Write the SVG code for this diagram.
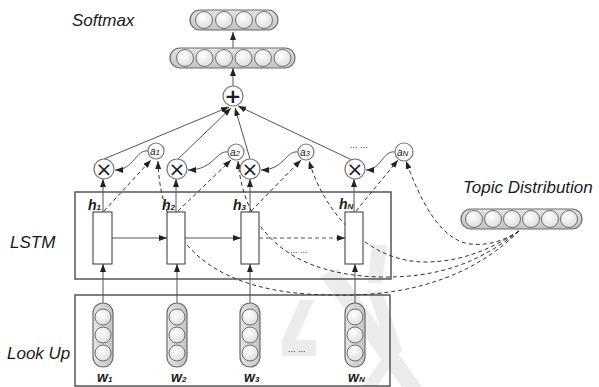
<svg xmlns="http://www.w3.org/2000/svg" width="599" height="387" viewBox="0 0 599 387">
<defs>
  <marker id="arr" viewBox="0 0 8 6" refX="8" refY="3" markerWidth="8" markerHeight="6" markerUnits="userSpaceOnUse" orient="auto">
    <path d="M0,0 L8,3 L0,6 z" fill="#222"/>
  </marker>
  <linearGradient id="pillH" x1="0" y1="0" x2="0" y2="1">
    <stop offset="0" stop-color="#e4e4e4"/>
    <stop offset="1" stop-color="#c4c4c4"/>
  </linearGradient>
  <linearGradient id="pillV" x1="0" y1="0" x2="1" y2="0">
    <stop offset="0" stop-color="#e4e4e4"/>
    <stop offset="1" stop-color="#c4c4c4"/>
  </linearGradient>
  <radialGradient id="dot" cx="0.4" cy="0.35" r="0.7">
    <stop offset="0" stop-color="#ffffff"/>
    <stop offset="1" stop-color="#dcdcdc"/>
  </radialGradient>
</defs>
<style>
  .lbl{font-family:"Liberation Sans",Arial,sans-serif;font-style:italic;font-size:17px;fill:#1a1a1a}
  .sym{font-family:"Liberation Sans",Arial,sans-serif;font-style:italic;font-weight:bold;font-size:14px;fill:#1a1a1a}
  .sub{font-size:8px}
  .al{font-family:"Liberation Sans",Arial,sans-serif;font-style:italic;font-size:10px;fill:#1a1a1a}
  .dots{font-family:"Liberation Sans",Arial,sans-serif;font-size:9px;fill:#333}
  .op{font-family:"DejaVu Sans",sans-serif;font-size:20px;fill:#1a1a2e;text-anchor:middle}
  .pill{stroke:#6a6a6a;stroke-width:1.2}
  .dot{fill:url(#dot);stroke:#707070;stroke-width:1}
  .box{fill:none;stroke:#555;stroke-width:1.5}
  .cell{fill:#fff;stroke:#333;stroke-width:1}
  .node{fill:#fff;stroke:#777;stroke-width:1.2}
  .ln{fill:none;stroke:#555;stroke-width:1;marker-end:url(#arr)}
  .dl{fill:none;stroke:#333;stroke-width:1;stroke-dasharray:4 3;marker-end:url(#arr)}
  .wm{fill:#ececec}
</style>
<rect width="599" height="387" fill="#fff"/>

<g id="watermark">
  <polygon class="wm" points="372,245 387,245 382,283 368,283"/>
  <polygon class="wm" points="320,276 338,268 422,387 402,387"/>
  <polygon class="wm" points="368,292 382,290 402,350 376,387 362,387 388,350"/>
  <polygon class="wm" points="300,300 314,300 296,340 316,340 316,356 282,356 282,340"/>
</g>

<g id="labels">
  <text class="lbl" x="72" y="26">Softmax</text>
  <text class="lbl" x="10" y="248">LSTM</text>
  <text class="lbl" x="7" y="359">Look Up</text>
  <text class="lbl" x="463" y="193">Topic Distribution</text>
</g>

<g id="lstm-box"><rect class="box" x="75" y="192" width="316" height="87"/></g>
<g id="lookup-box"><rect class="box" x="75" y="295" width="315" height="91"/></g>

<g id="connectors">
  <!-- softmax chain -->
  <line class="ln" x1="233" y1="86" x2="233" y2="68"/>
  <line class="ln" x1="233" y1="48" x2="233" y2="32"/>
  <!-- x to plus -->
  <line class="ln" x1="104" y1="159" x2="229" y2="107"/>
  <line class="ln" x1="178" y1="159" x2="231" y2="108"/>
  <line class="ln" x1="250" y1="159" x2="235" y2="108"/>
  <line class="ln" x1="352" y1="160" x2="238" y2="106"/>
  <!-- a to x -->
  <path class="ln" d="M148,151 C136,149 134,170 115,170"/>
  <path class="ln" d="M228,152 C216,150 214,170 188,170"/>
  <path class="ln" d="M298,152 C286,150 284,170 261,170"/>
  <path class="ln" d="M395,152 C383,150 381,170 366,170"/>
  <!-- cell to x -->
  <line class="ln" x1="103" y1="212" x2="103" y2="179"/>
  <line class="ln" x1="176" y1="212" x2="176" y2="179"/>
  <line class="ln" x1="250" y1="212" x2="250" y2="179"/>
  <line class="ln" x1="354" y1="212" x2="354" y2="179"/>
  <!-- lookup to cell -->
  <line class="ln" x1="103" y1="303" x2="103" y2="264"/>
  <line class="ln" x1="177" y1="303" x2="177" y2="264"/>
  <line class="ln" x1="250" y1="303" x2="250" y2="264"/>
  <line class="ln" x1="355" y1="303" x2="355" y2="264"/>
  <!-- recurrent -->
  <line class="ln" x1="112" y1="238" x2="167" y2="238"/>
  <line class="ln" x1="185" y1="238" x2="241" y2="238"/>
  <line class="dl" style="stroke:#555" x1="259" y1="238" x2="345" y2="238"/>
  <!-- h to a dashed -->
  <line class="dl" x1="104" y1="211" x2="151" y2="160"/>
  <line class="dl" x1="178" y1="211" x2="231" y2="160"/>
  <line class="dl" x1="251" y1="211" x2="301" y2="160"/>
  <line class="dl" x1="356" y1="211" x2="398" y2="160"/>
  <!-- topic to a -->
  <path class="dl" d="M519,231 C480,270 420,297 335,295 C215,295 160,245 158,161"/>
  <path class="dl" d="M519,231 C480,262 440,278 380,277 C300,275 245,240 238,161"/>
  <path class="dl" d="M519,231 C490,250 460,262 425,262 C370,262 325,215 309,161"/>
  <path class="dl" d="M519,231 C505,240 490,246 470,244 C440,240 420,200 406,161"/>
</g>

<g id="softmax-out">
  <rect class="pill" fill="url(#pillH)" x="190" y="10" width="88" height="20" rx="10"/>
  <circle class="dot" cx="204" cy="20" r="8.5"/>
  <circle class="dot" cx="224" cy="20" r="8.5"/>
  <circle class="dot" cx="244" cy="20" r="8.5"/>
  <circle class="dot" cx="264" cy="20" r="8.5"/>
</g>
<g id="softmax-hidden">
  <rect class="pill" fill="url(#pillH)" x="170" y="48" width="125" height="20" rx="10"/>
  <circle class="dot" cx="185" cy="58" r="8.5"/>
  <circle class="dot" cx="204.5" cy="58" r="8.5"/>
  <circle class="dot" cx="224" cy="58" r="8.5"/>
  <circle class="dot" cx="243.5" cy="58" r="8.5"/>
  <circle class="dot" cx="263" cy="58" r="8.5"/>
  <circle class="dot" cx="282.5" cy="58" r="8.5"/>
</g>
<g id="plus">
  <circle class="node" cx="233" cy="96" r="10"/>
  <text class="op" x="233" y="103" font-weight="bold">+</text>
</g>

<g id="mul1"><circle class="node" cx="104" cy="169" r="10"/><text class="op" x="104" y="176">×</text></g>
<g id="mul2"><circle class="node" cx="177" cy="169" r="10"/><text class="op" x="177" y="176">×</text></g>
<g id="mul3"><circle class="node" cx="250" cy="169" r="10"/><text class="op" x="250" y="176">×</text></g>
<g id="mulN"><circle class="node" cx="355" cy="169" r="10"/><text class="op" x="355" y="176">×</text></g>
<text class="dots" x="350" y="148">... ...</text>

<g id="a1"><circle class="node" cx="156" cy="151" r="8"/><text class="al" x="150" y="155">a<tspan class="sub">1</tspan></text></g>
<g id="a2"><circle class="node" cx="236" cy="152" r="8"/><text class="al" x="230" y="156">a<tspan class="sub">2</tspan></text></g>
<g id="a3"><circle class="node" cx="306" cy="152" r="8"/><text class="al" x="300" y="156">a<tspan class="sub">3</tspan></text></g>
<g id="aN"><circle class="node" cx="404" cy="152" r="9"/><text class="al" x="397" y="156">a<tspan class="sub">N</tspan></text></g>

<g id="cell1"><rect class="cell" x="93" y="212" width="19" height="52"/><text class="sym" x="88" y="210">h<tspan class="sub">1</tspan></text></g>
<g id="cell2"><rect class="cell" x="167" y="212" width="18" height="52"/><text class="sym" x="162" y="210">h<tspan class="sub">2</tspan></text></g>
<g id="cell3"><rect class="cell" x="241" y="212" width="18" height="52"/><text class="sym" x="233" y="210">h<tspan class="sub">3</tspan></text></g>
<g id="cellN"><rect class="cell" x="345" y="212" width="18" height="52"/><text class="sym" x="339" y="209">h<tspan class="sub">N</tspan></text></g>
<text class="dots" x="290" y="253">... ...</text>

<g id="w1">
  <rect class="pill" fill="url(#pillV)" x="93" y="303" width="20" height="64" rx="10"/>
  <circle class="dot" cx="103" cy="317" r="8"/><circle class="dot" cx="103" cy="335" r="8"/><circle class="dot" cx="103" cy="353" r="8"/>
  <text class="sym" x="97" y="382">w<tspan class="sub">1</tspan></text>
</g>
<g id="w2">
  <rect class="pill" fill="url(#pillV)" x="167" y="303" width="20" height="64" rx="10"/>
  <circle class="dot" cx="177" cy="317" r="8"/><circle class="dot" cx="177" cy="335" r="8"/><circle class="dot" cx="177" cy="353" r="8"/>
  <text class="sym" x="171" y="382">w<tspan class="sub">2</tspan></text>
</g>
<g id="w3">
  <rect class="pill" fill="url(#pillV)" x="240" y="303" width="20" height="64" rx="10"/>
  <circle class="dot" cx="250" cy="317" r="8"/><circle class="dot" cx="250" cy="335" r="8"/><circle class="dot" cx="250" cy="353" r="8"/>
  <text class="sym" x="244" y="382">w<tspan class="sub">3</tspan></text>
</g>
<g id="wN">
  <rect class="pill" fill="url(#pillV)" x="345" y="303" width="20" height="64" rx="10"/>
  <circle class="dot" cx="355" cy="317" r="8"/><circle class="dot" cx="355" cy="335" r="8"/><circle class="dot" cx="355" cy="353" r="8"/>
  <text class="sym" x="348" y="382">w<tspan class="sub">N</tspan></text>
</g>
<text class="dots" x="288" y="352">... ...</text>

<g id="topic">
  <rect class="pill" fill="url(#pillH)" x="461" y="209" width="121" height="20" rx="10"/>
  <circle class="dot" cx="474" cy="219" r="8.5"/>
  <circle class="dot" cx="493" cy="219" r="8.5"/>
  <circle class="dot" cx="512" cy="219" r="8.5"/>
  <circle class="dot" cx="531" cy="219" r="8.5"/>
  <circle class="dot" cx="550" cy="219" r="8.5"/>
  <circle class="dot" cx="569" cy="219" r="8.5"/>
</g>
</svg>
